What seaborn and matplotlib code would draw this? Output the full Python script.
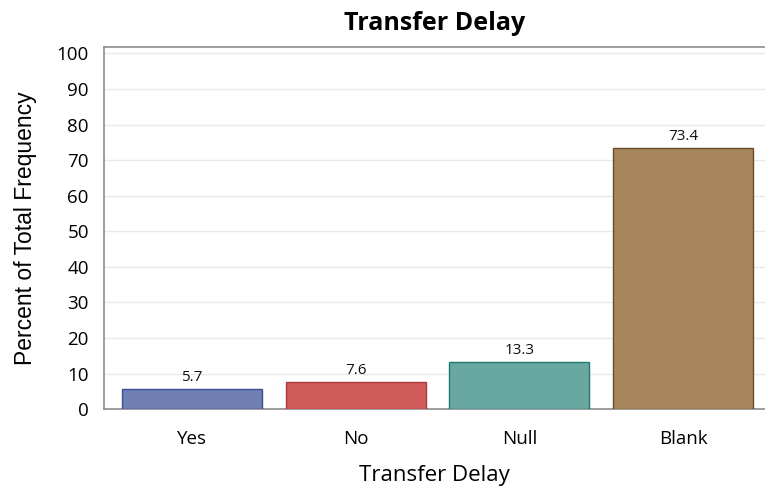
import matplotlib
matplotlib.use('Agg')
import matplotlib.pyplot as plt
import pandas as pd
import seaborn as sns

# Data
categories = ['Yes', 'No', 'Null', 'Blank']
percents = [5.7, 7.6, 13.3, 73.4]
fill_colors = ['#6f7fb4', '#d05b5a', '#68a8a1', '#a8865c']
edge_colors = ['#3d4f8f', '#a83a3a', '#1d7a6e', '#6a4b27']

df = pd.DataFrame({'delay': categories, 'pct': percents})

sns.set_style('white')
plt.rcParams['font.family'] = ['Open Sans', 'DejaVu Sans']
plt.rcParams['text.color'] = '#000000'
plt.rcParams['axes.labelcolor'] = '#000000'

fig = plt.figure(figsize=(7.65, 4.9), dpi=100)
ax = fig.add_axes([0.136, 0.165, 0.864, 0.739])

sns.barplot(data=df, x='delay', y='pct', hue='delay', palette=fill_colors,
            order=categories, hue_order=categories, width=0.855, saturation=1,
            legend=False, ax=ax, zorder=3)

# darker outline on every bar
for bar, ec in zip(ax.patches, edge_colors):
    bar.set_edgecolor(ec)
    bar.set_linewidth(1.0)

for i, v in enumerate(percents):
    ax.text(i, v + 1.2, f'{v:.1f}', ha='center', va='bottom', fontsize=11, color='#111111')

ax.set_xlim(-0.537, 3.5)
ax.set_ylim(0, 101.8)
ax.set_yticks(range(0, 101, 10))
ax.grid(axis='y', color='#e8e8e8', linewidth=1, zorder=0)
ax.set_axisbelow(True)

for side in ['left', 'bottom', 'top']:
    ax.spines[side].set_color('#8c8c8c')
    ax.spines[side].set_linewidth(1.2)
ax.spines['right'].set_visible(False)

ax.tick_params(axis='both', which='both', direction='out', length=6, width=1,
               color='#8c8c8c', labelsize=13.5, labelcolor='#000000')
ax.tick_params(axis='x', length=7, pad=8)
ax.tick_params(axis='y', pad=5)

ax.set_title('Transfer Delay', fontsize=18, fontweight='bold', pad=12, color='#000000')
ax.set_xlabel('Transfer Delay', fontsize=16, labelpad=12)
ax.set_ylabel('Percent of Total Frequency', fontsize=16.5, labelpad=14,
              fontfamily='Liberation Sans')

fig.savefig('out.png', dpi=100)
